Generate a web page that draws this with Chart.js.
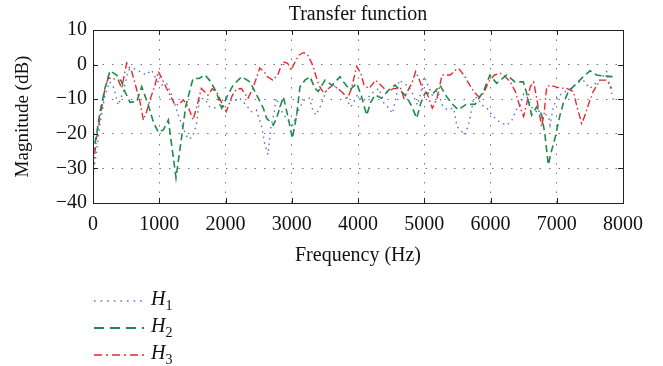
<!DOCTYPE html>
<html>
<head>
<meta charset="utf-8">
<script src="https://cdn.jsdelivr.net/npm/chart.js@4.4.1/dist/chart.umd.min.js"></script>
<style>
  html, body { margin: 0; padding: 0; background: #fff; }
  #wrap { position: relative; width: 663px; height: 366px; }
  #title { position: absolute; left: 93px; width: 530px; top: 2px; text-align: center;
           font-family: 'Liberation Serif', serif; font-size: 20px; color: #111; }
  #legend { position: absolute; left: 92px; top: 287px; font-family: 'Liberation Serif', serif; font-size: 20px; color: #111; }
  #legend div { height: 27px; display: flex; align-items: center; }
  #legend svg { width: 54px; height: 10px; margin-right: 5px; }
  #legend i sub { font-style: normal; font-size: 14px; }
</style>
</head>
<body>
<div id="wrap">
  <canvas id="chart" width="663" height="366"></canvas>
  <div id="title">Transfer function</div>
  <div id="legend">
    <div><svg><line x1="2" y1="5" x2="52" y2="5" stroke="#5a76d6" stroke-width="1.6" stroke-dasharray="1.6,5"/></svg><i>H<sub>1</sub></i></div>
    <div><svg><line x1="2" y1="5" x2="52" y2="5" stroke="#1e8a4c" stroke-width="1.8" stroke-dasharray="10,6"/></svg><i>H<sub>2</sub></i></div>
    <div><svg><line x1="2" y1="5" x2="52" y2="5" stroke="#e8282c" stroke-width="1.6" stroke-dasharray="8,4,2,4"/></svg><i>H<sub>3</sub></i></div>
  </div>
</div>
<script>
// ─── Data (frequency in Hz, magnitude in dB) ─────────────────────────────────
const X_TICKS = [0, 1000, 2000, 3000, 4000, 5000, 6000, 7000, 8000];
const Y_TICKS = [-40, -30, -20, -10, 0, 10];

const h1Freq = [0, 55, 106, 181, 250, 307, 382, 458, 533, 609, 709, 800, 885, 961, 1036, 1112, 1187, 1238, 1288, 1363,
  1434, 1500, 1560, 1610, 1690, 1761, 1840, 1912, 1987, 2113, 2213, 2314, 2390, 2465, 2541, 2591, 2640, 2687, 2737, 2762,
  2812, 2863, 2938, 3014, 3114, 3190, 3265, 3316, 3366, 3442, 3517, 3617, 3692, 3768, 3843, 3894, 3990, 4060, 4141, 4230,
  4317, 4392, 4468, 4518, 4570, 4619, 4700, 4770, 4840, 4895, 4950, 4996, 5046, 5121, 5200, 5272, 5340, 5444, 5494, 5570,
  5620, 5671, 5696, 5746, 5800, 5872, 5947, 6023, 6098, 6174, 6249, 6325, 6390, 6450, 6500, 6551, 6626, 6722, 6800, 6874,
  6898, 6948, 7000, 7049, 7110, 7175, 7240, 7300, 7400, 7502, 7580, 7653, 7753, 7800, 7854];
const h1Mag = [-32, -25, -17, -8.8, -5, -6.4, -11.7, -7.8, -1.6, -1.1, -2, -3, -1.6, -4.5, -5.9, -5.4, -8.8, -11.7, -14.6, -18.6,
  -21.5, -21, -17.5, -9.7, -10, -12.2, -12.5, -11.7, -9.3, -10.7, -9.7, -11.7, -13.6, -13.1, -17.5, -22.7, -26, -17.9, -13.6, -9.7,
  -11.7, -14.1, -16, -17.5, -12.6, -10.2, -9.7, -13.1, -14.6, -11.7, -7.8, -5.9, -6.9, -7.8, -10.7, -12.2, -8.8, -10.5, -9.7, -8,
  -6.9, -11.2, -12.6, -14.1, -10, -4.5, -5.5, -6.4, -9, -11.7, -8, -3.5, -5.5, -8.8, -7.5, -11.7, -13, -12.6, -17.9, -19.4,
  -20.3, -17, -15, -9.7, -9.5, -11.7, -12.6, -14.6, -16, -17, -17.5, -16, -13, -11.7, -8.5, -9.3, -12.4, -14.1, -14, -15,
  -17.5, -12.2, -10, -8.8, -8, -7.3, -6.5, -5.4, -4.5, -6.9, -5.5, -4.5, -2, -6, -10.2];

const h2Freq = [0, 55, 106, 181, 257, 357, 433, 483, 558, 659, 735, 835, 910, 986, 1061, 1137, 1253, 1330, 1400, 1510,
  1600, 1690, 1780, 1867, 1942, 2030, 2113, 2244, 2370, 2470, 2571, 2621, 2722, 2772, 2873, 2948, 3009, 3074, 3124, 3200,
  3275, 3351, 3400, 3502, 3610, 3728, 3800, 3879, 3980, 4050, 4131, 4190, 4257, 4357, 4483, 4558, 4640, 4735, 4810, 4886,
  4950, 5011, 5137, 5238, 5339, 5414, 5514, 5640, 5766, 5892, 5992, 6093, 6244, 6370, 6496, 6546, 6621, 6697, 6772, 6820,
  6873, 6920, 6973, 7049, 7099, 7175, 7301, 7401, 7502, 7602, 7703, 7854];
const h2Mag = [-26, -20, -13.6, -6.8, -1.8, -3, -5, -7.8, -10.9, -10.7, -6.4, -11.7, -16.5, -19.6, -18.9, -16, -32.7, -22, -12, -4,
  -4, -3, -5, -8.2, -12.6, -9, -6, -3.5, -5, -8.8, -12.6, -15.5, -17.5, -15.4, -9.3, -15.5, -21.3, -14.6, -6.4, -4.5,
  -3.5, -6.9, -7.8, -4.5, -6, -3.5, -5.5, -7.3, -5.4, -9, -14.6, -11, -8.8, -9.7, -6.9, -5.9, -7.5, -9.3, -12, -15.5,
  -11, -8.3, -8.3, -6, -9.3, -11.2, -13.1, -11.4, -11.5, -7.8, -3, -5.4, -3, -5, -5, -8.3, -14.6, -12.2, -14.6, -20,
  -29, -25, -21.3, -14.6, -11.2, -7.8, -5.4, -3.5, -1.8, -3, -3.3, -3.5];

const h3Freq = [0, 55, 131, 181, 231, 300, 382, 433, 508, 584, 634, 709, 760, 810, 860, 936, 986, 1036, 1112, 1187,
  1238, 1300, 1363, 1438, 1510, 1570, 1635, 1735, 1800, 1870, 1940, 2012, 2100, 2170, 2239, 2340, 2410, 2465, 2516, 2580,
  2636, 2712, 2787, 2863, 2938, 2989, 3064, 3114, 3180, 3240, 3316, 3391, 3440, 3491, 3550, 3617, 3692, 3760, 3843, 3900,
  3980, 4041, 4091, 4166, 4267, 4342, 4442, 4543, 4644, 4694, 4744, 4820, 4870, 4920, 4970, 5030, 5071, 5121, 5190, 5268,
  5394, 5470, 5520, 5596, 5671, 5746, 5822, 5897, 5970, 6060, 6148, 6224, 6299, 6375, 6450, 6500, 6550, 6600, 6651, 6700,
  6772, 6810, 6848, 6900, 7000, 7074, 7150, 7250, 7300, 7375, 7420, 7475, 7551, 7653, 7753, 7829];
const h3Mag = [-30, -21, -12.5, -6.8, -3.9, -4, -4.5, -6.8, 0.4, -2, -5.4, -10.7, -16, -13.6, -10.2, -5.9, -2, -3.9, -6.9, -9.7,
  -11.7, -11.5, -10.2, -12.2, -16, -12, -6.9, -8.8, -7, -8, -11, -13.6, -9, -7, -6.9, -9.7, -7, -4, -1, -2,
  -3.5, -4.5, -3, 0.8, 0.4, -1.6, 1.3, 2.8, 3.5, 2.8, -0.1, -5, -7, -8.3, -7, -5.9, -6.9, -8, -9.7, -7,
  -0.5, -2.5, -5.9, -6.9, -4.5, -5.9, -7.8, -6.9, -6.9, -9.7, -7.8, -5, -2, -4, -6.9, -8, -9.7, -12.6, -10, -3,
  -3, -1.6, -1.1, -3, -5.4, -7.8, -9.3, -8.3, -5, -3, -2.5, -3.5, -5, -7.8, -12.6, -15, -11, -6.4, -5, -10,
  -17.9, -14, -6.4, -6, -6.5, -6.8, -6.9, -7.8, -11.7, -17, -15, -11.7, -7.8, -4.5, -4.5, -6.9];

const SERIES = [
  { label: 'H1', freq: h1Freq, mag: h1Mag, color: '#5a76d6', dash: [1.6, 4], width: 1.4 },
  { label: 'H2', freq: h2Freq, mag: h2Mag, color: '#1e8a4c', dash: [7, 4], width: 1.6 },
  { label: 'H3', freq: h3Freq, mag: h3Mag, color: '#e8282c', dash: [7, 3, 1.5, 3], width: 1.4 }
];

const FONT = 'Liberation Serif, Times New Roman, serif';

// ─── Box frame + inward tick marks (Matlab style) ─────────────────────────────
const framePlugin = {
  id: 'frame',
  afterDraw(chart) {
    const { ctx, chartArea: a, scales } = chart;
    ctx.save();
    ctx.strokeStyle = '#222';
    ctx.lineWidth = 1;
    ctx.setLineDash([]);
    ctx.strokeRect(a.left + 0.5, a.top + 0.5, a.right - a.left, a.bottom - a.top);
    const len = 5;
    ctx.beginPath();
    X_TICKS.forEach(v => {
      const px = Math.round(scales.x.getPixelForValue(v)) + 0.5;
      ctx.moveTo(px, a.bottom); ctx.lineTo(px, a.bottom - len);
      ctx.moveTo(px, a.top);    ctx.lineTo(px, a.top + len);
    });
    Y_TICKS.forEach(v => {
      const py = Math.round(scales.y.getPixelForValue(v)) + 0.5;
      ctx.moveTo(a.left, py);  ctx.lineTo(a.left + len, py);
      ctx.moveTo(a.right, py); ctx.lineTo(a.right - len, py);
    });
    ctx.stroke();
    ctx.restore();
  }
};

const gridStyle = { color: '#777', drawTicks: false, lineWidth: 1 };
const borderStyle = { display: false, dash: [1.5, 8] };

new Chart(document.getElementById('chart'), {
  type: 'line',
  data: {
    datasets: SERIES.map(s => ({
      label: s.label,
      data: s.freq.map((f, i) => ({ x: f, y: s.mag[i] })),
      borderColor: s.color,
      borderDash: s.dash,
      borderWidth: s.width,
      pointRadius: 0,
      tension: 0,
      fill: false
    }))
  },
  options: {
    responsive: false,
    animation: false,
    layout: { padding: { left: 0, right: 40, top: 30, bottom: 91 } },
    plugins: {
      legend: { display: false },
      tooltip: { enabled: false },
      title: { display: false }
    },
    scales: {
      x: {
        type: 'linear',
        min: 0, max: 8000,
        afterBuildTicks(scale) { scale.ticks = X_TICKS.map(v => ({ value: v })); },
        afterFit(scale) { scale.height = 72; },
        border: borderStyle,
        grid: gridStyle,
        ticks: {
          color: '#111', padding: 10, maxRotation: 0, font: { family: FONT, size: 20 },
          callback(v) { return String(v); }
        },
        title: {
          display: true, text: 'Frequency (Hz)', color: '#111',
          font: { family: FONT, size: 20 }, padding: { top: 0, bottom: 7 }
        }
      },
      y: {
        min: -40, max: 10,
        afterBuildTicks(scale) { scale.ticks = Y_TICKS.map(v => ({ value: v })); },
        afterFit(scale) { scale.width = 93; },
        border: borderStyle,
        grid: gridStyle,
        ticks: {
          color: '#111', padding: 6, font: { family: FONT, size: 20 },
          callback(v) { return v < 0 ? '\u2212' + Math.abs(v) : String(v); }
        },
        title: {
          display: true, text: 'Magnitude (dB)', color: '#111',
          font: { family: FONT, size: 19 }, padding: { top: 12, bottom: 0 }
        }
      }
    }
  },
  plugins: [framePlugin]
});
</script>
</body>
</html>
